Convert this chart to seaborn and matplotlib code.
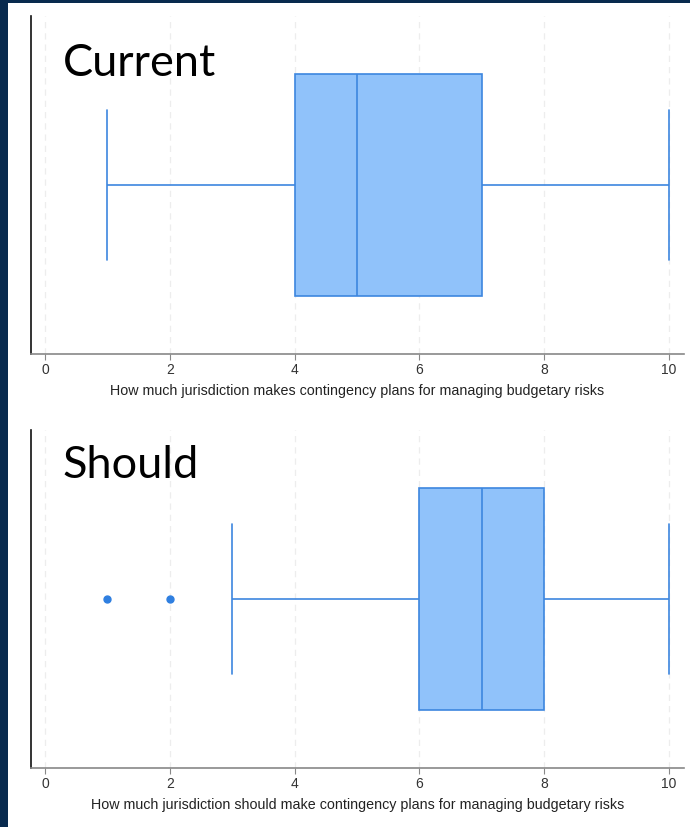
import matplotlib
matplotlib.use("Agg")
import matplotlib.pyplot as plt
from matplotlib.patches import Rectangle
import seaborn as sns

# ---- data (individual 0-10 ratings, read so that box stats match the chart) ----
current_responses = [1, 2, 3, 4, 4, 4, 5, 5, 5, 6, 7, 7, 8, 9, 10]
should_responses = [1, 2, 3, 6, 6, 6, 7, 7, 7, 7, 8, 8, 8, 9, 10]
panel_titles = ["Current", "Should"]
x_labels = [
    "How much jurisdiction makes contingency plans for managing budgetary risks",
    "How much jurisdiction should make contingency plans for managing budgetary risks",
]
x_ticks = [0, 2, 4, 6, 8, 10]

NAVY = "#082a4e"
FILL = "#90c2fa"
EDGE = "#3d86df"
FLIER = "#2f7fe0"

sns.set_style("white")
plt.rcParams["font.family"] = ["Liberation Sans", "DejaVu Sans"]

W, H = 690, 828
fig = plt.figure(figsize=(W / 100, H / 100), dpi=100)
fig.patch.set_facecolor(NAVY)
bg = Rectangle((8 / W, 0), 1 - 8 / W, (H - 4) / H,
               transform=fig.transFigure, facecolor="white",
               edgecolor="none", zorder=-100)
fig.patches.append(bg)

def px_axes(left, top, right, bottom):
    return fig.add_axes([left / W, 1 - bottom / H, (right - left) / W, (bottom - top) / H])

panels = [
    (current_responses, 17, 355, 76),
    (should_responses, 431, 769, 478),
]

for i, (vals, top, bottom, title_base) in enumerate(panels):
    ax = px_axes(31, top, 684, bottom)
    ax.set_facecolor("none")
    ax.set_zorder(5)
    sns.boxplot(x=vals, ax=ax, orient="h", width=0.657, color=FILL,
                saturation=1, linecolor=EDGE, linewidth=1.2,
                capwidths=0.444,
                flierprops=dict(marker="o", markersize=5,
                                markerfacecolor=FLIER, markeredgecolor=FLIER))
    ax.set_ylim(0.5, -0.5)
    ax.set_xlim(-0.224, 10.24)
    ax.set_xticks(x_ticks)
    ax.set_xticklabels([str(t) for t in x_ticks], fontsize=10, color="#333333")
    ax.set_yticks([])
    ax.set_xlabel(x_labels[i], fontsize=10.3, color="#222222", labelpad=5)
    ax.set_ylabel("")
    ax.set_axisbelow(True)
    ax.xaxis.grid(True, linestyle=(0, (5, 4)), color="#ededed", linewidth=0.9)
    ax.tick_params(axis="x", direction="out", length=4, width=0.8,
                   color="#888888", pad=2, bottom=True)
    for s in ["top", "right"]:
        ax.spines[s].set_visible(False)
    ax.spines["left"].set_color("#111111")
    ax.spines["left"].set_linewidth(1.2)
    ax.spines["bottom"].set_color("#888888")
    ax.spines["bottom"].set_linewidth(1.2)
    t = fig.text(63 / W, 1 - title_base / H, panel_titles[i], fontsize=32.5,
                 family=["Lato", "DejaVu Sans"], color="black", va="baseline", ha="left")
    t.set_zorder(10)

fig.savefig("out.png", dpi=100, facecolor=fig.get_facecolor())
